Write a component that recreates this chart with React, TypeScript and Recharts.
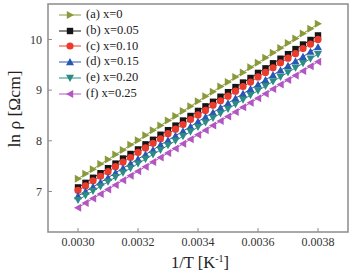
import React from 'react';
import { LineChart, Line, XAxis, YAxis, Legend, ReferenceArea } from 'recharts';

// 1/T sample points [K^-1]
const X_VALUES = [
  0.003, 0.003025, 0.00305, 0.003075, 0.0031, 0.003125, 0.00315, 0.003175, 0.0032, 0.003225, 0.00325,
  0.003275, 0.0033, 0.003325, 0.00335, 0.003375, 0.0034, 0.003425, 0.00345, 0.003475, 0.0035, 0.003525,
  0.00355, 0.003575, 0.0036, 0.003625, 0.00365, 0.003675, 0.0037, 0.003725, 0.00375, 0.003775, 0.0038,
];

// ln rho for each composition
const X0 = [
  7.25, 7.35, 7.44, 7.54, 7.63, 7.73, 7.82, 7.92, 8.01, 8.11, 8.21, 8.3, 8.4, 8.49, 8.59, 8.68, 8.78,
  8.88, 8.97, 9.07, 9.16, 9.26, 9.35, 9.45, 9.54, 9.64, 9.74, 9.83, 9.93, 10.02, 10.12, 10.21, 10.31,
];
const X005 = [
  7.08, 7.17, 7.27, 7.36, 7.46, 7.55, 7.65, 7.74, 7.83, 7.93, 8.02, 8.12, 8.21, 8.3, 8.4, 8.49, 8.59,
  8.68, 8.77, 8.87, 8.96, 9.06, 9.15, 9.24, 9.34, 9.43, 9.53, 9.62, 9.71, 9.81, 9.9, 9.99, 10.08,
];
const X010 = [
  7.02, 7.11, 7.21, 7.3, 7.39, 7.49, 7.58, 7.67, 7.77, 7.86, 7.95, 8.04, 8.14, 8.23, 8.32, 8.42, 8.51,
  8.6, 8.7, 8.79, 8.88, 8.98, 9.07, 9.16, 9.26, 9.35, 9.44, 9.54, 9.63, 9.72, 9.82, 9.91, 10.0,
];
const X015 = [
  6.91, 7.0, 7.09, 7.18, 7.27, 7.37, 7.46, 7.55, 7.64, 7.73, 7.82, 7.92, 8.01, 8.1, 8.19, 8.28, 8.38,
  8.47, 8.56, 8.65, 8.74, 8.84, 8.93, 9.02, 9.11, 9.2, 9.3, 9.39, 9.48, 9.57, 9.66, 9.76, 9.85,
];
const X020 = [
  6.83, 6.92, 7.01, 7.1, 7.19, 7.28, 7.37, 7.46, 7.55, 7.64, 7.73, 7.82, 7.91, 8.0, 8.09, 8.18, 8.27,
  8.36, 8.45, 8.54, 8.63, 8.72, 8.81, 8.9, 8.99, 9.08, 9.17, 9.26, 9.35, 9.44, 9.53, 9.62, 9.71,
];
const X025 = [
  6.68, 6.77, 6.86, 6.95, 7.04, 7.13, 7.22, 7.31, 7.4, 7.49, 7.58, 7.67, 7.76, 7.85, 7.94, 8.03, 8.12,
  8.21, 8.3, 8.39, 8.48, 8.57, 8.66, 8.75, 8.84, 8.93, 9.02, 9.11, 9.2, 9.29, 9.38, 9.47, 9.56,
];

const X_TICKS = [0.003, 0.0032, 0.0034, 0.0036, 0.0038];
const Y_TICKS = [7, 8, 9, 10];

type Shape = 'right' | 'square' | 'circle' | 'up' | 'down' | 'left';

const SERIES: { key: string; name: string; color: string; shape: Shape; values: number[] }[] = [
  { key: 'a', name: '(a) x=0', color: '#8a9a3a', shape: 'right', values: X0 },
  { key: 'b', name: '(b) x=0.05', color: '#151515', shape: 'square', values: X005 },
  { key: 'c', name: '(c) x=0.10', color: '#ec3a2c', shape: 'circle', values: X010 },
  { key: 'd', name: '(d) x=0.15', color: '#2a56b4', shape: 'up', values: X015 },
  { key: 'e', name: '(e) x=0.20', color: '#2b8c84', shape: 'down', values: X020 },
  { key: 'f', name: '(f) x=0.25', color: '#b256c2', shape: 'left', values: X025 },
];

const data = X_VALUES.map((x, i) => {
  const row: Record<string, number> = { x };
  SERIES.forEach((s) => {
    row[s.key] = s.values[i];
  });
  return row;
});

const FONT = '"Liberation Serif", "Times New Roman", serif';
const FRAME = '#8c8c8c';

function Marker({ cx, cy, shape, color }: { cx: number; cy: number; shape: Shape; color: string }) {
  const h = 4;
  switch (shape) {
    case 'square':
      return <rect x={cx - 3.2} y={cy - 3.2} width={6.4} height={6.4} fill={color} />;
    case 'circle':
      return <circle cx={cx} cy={cy} r={3.6} fill={color} />;
    case 'up':
      return <polygon points={`${cx},${cy - h} ${cx - h},${cy + h * 0.8} ${cx + h},${cy + h * 0.8}`} fill={color} />;
    case 'down':
      return <polygon points={`${cx},${cy + h} ${cx - h},${cy - h * 0.8} ${cx + h},${cy - h * 0.8}`} fill={color} />;
    case 'right':
      return <polygon points={`${cx + h},${cy} ${cx - h * 0.8},${cy - h} ${cx - h * 0.8},${cy + h}`} fill={color} />;
    case 'left':
    default:
      return <polygon points={`${cx - h},${cy} ${cx + h * 0.8},${cy - h} ${cx + h * 0.8},${cy + h}`} fill={color} />;
  }
}

function LegendBox() {
  return (
    <div style={{ fontFamily: FONT, fontSize: 12.5, color: '#222', lineHeight: '15.8px' }}>
      {SERIES.map((s) => (
        <div key={s.key} style={{ display: 'flex', alignItems: 'center', height: 15.8 }}>
          <svg width={26} height={12} style={{ marginRight: 2 }}>
            <line x1={1} y1={6} x2={23} y2={6} stroke={s.color} strokeWidth={1} />
            <Marker cx={12} cy={6} shape={s.shape} color={s.color} />
          </svg>
          <span>{s.name}</span>
        </div>
      ))}
    </div>
  );
}

export default function App() {
  return (
    <div style={{ position: 'absolute', left: 0, top: 0, background: '#fff' }}>
      <LineChart width={351} height={275} data={data} margin={{ top: 4, right: 3, left: 0, bottom: 0 }}>
        <XAxis
          dataKey="x"
          type="number"
          domain={[0.0029, 0.0039]}
          ticks={X_TICKS}
          tickFormatter={(v: number) => v.toFixed(4)}
          tick={{ fontSize: 12, fill: '#333', fontFamily: FONT }}
          axisLine={false}
          tickLine={{ stroke: FRAME }}
          tickSize={-4}
          tickMargin={9}
          height={43}
          label={() => (
            <text x={200} y={268} textAnchor="middle" fontFamily={FONT} fontSize={16.5} fill="#222">
              1/T [K<tspan dy={-6} fontSize={10}>-1</tspan>
              <tspan dy={6}>]</tspan>
            </text>
          )}
        />
        <YAxis
          type="number"
          domain={[6.2, 10.7]}
          ticks={Y_TICKS}
          tick={{ fontSize: 12, fill: '#333', fontFamily: FONT }}
          axisLine={false}
          tickLine={{ stroke: FRAME }}
          tickSize={-4}
          tickMargin={10}
          width={48}
          label={() => (
            <text
              x={20}
              y={109}
              transform="rotate(-90 20 109)"
              textAnchor="middle"
              fontFamily={FONT}
              fontSize={17.5}
              fill="#222"
            >
              ln ρ [Ωcm]
            </text>
          )}
        />
        <ReferenceArea
          x1={0.0029}
          x2={0.0039}
          y1={6.2}
          y2={10.7}
          fill="none"
          stroke={FRAME}
          strokeWidth={1.5}
          ifOverflow="visible"
        />
        <Legend
          layout="vertical"
          align="center"
          verticalAlign="middle"
          content={() => <LegendBox />}
          wrapperStyle={{ position: 'absolute', left: 58, top: 7, width: 'auto' }}
        />
        {SERIES.map((s) => (
          <Line
            key={s.key}
            dataKey={s.key}
            name={s.name}
            stroke={s.color}
            strokeWidth={1}
            isAnimationActive={false}
            dot={(p: any) => <Marker key={`${s.key}-${p.index}`} cx={p.cx} cy={p.cy} shape={s.shape} color={s.color} />}
            activeDot={false}
          />
        ))}
      </LineChart>
    </div>
  );
}
